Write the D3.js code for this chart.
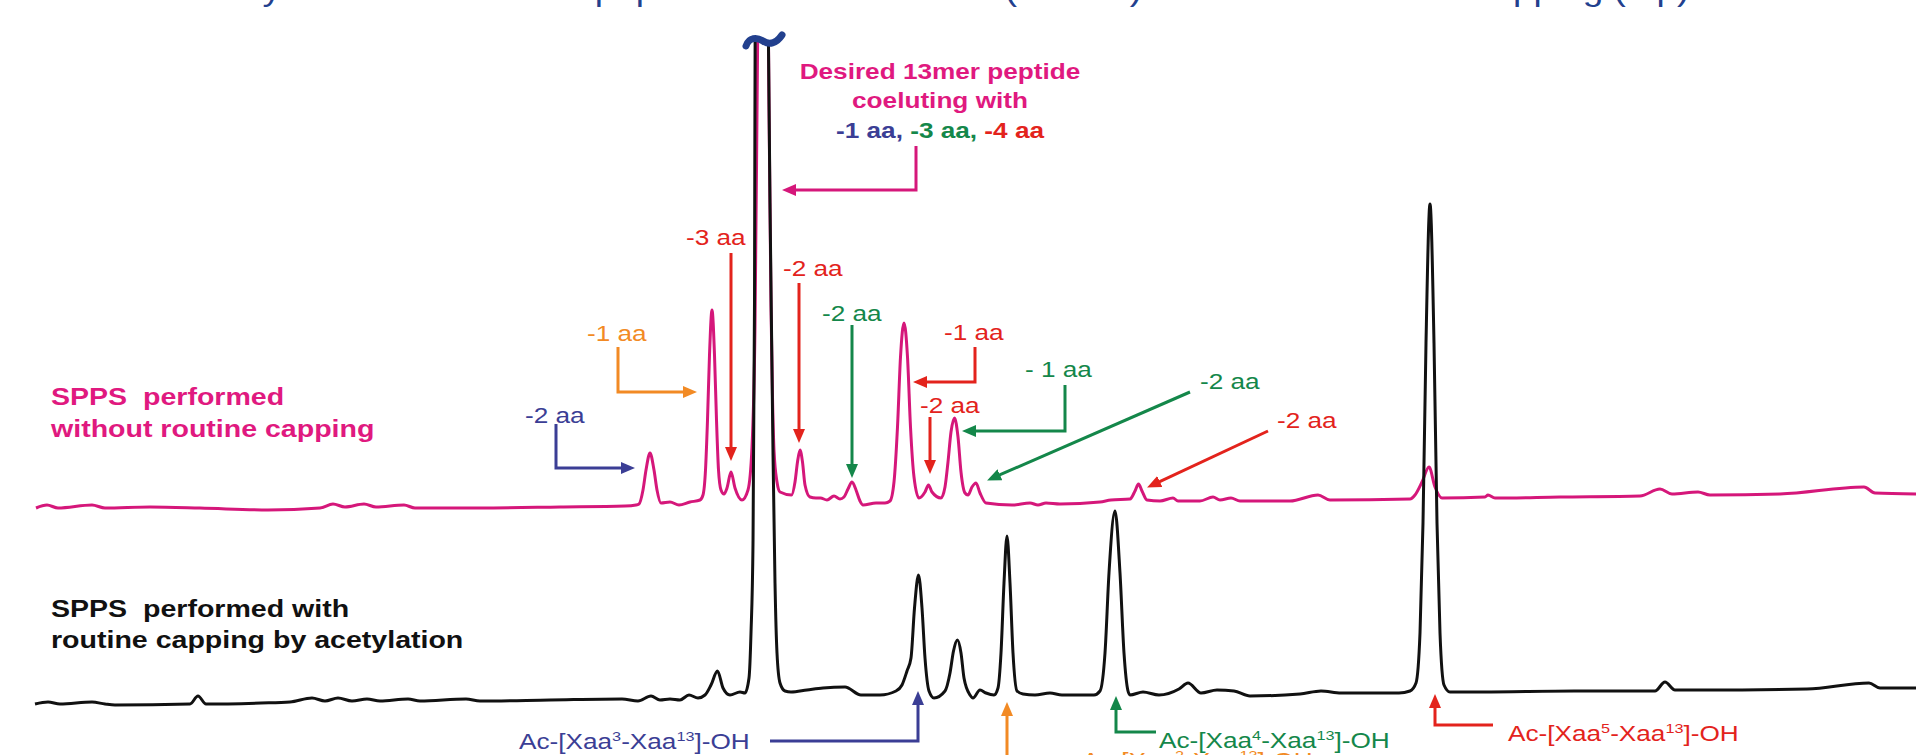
<!DOCTYPE html>
<html><head><meta charset="utf-8">
<script src="https://cdn.jsdelivr.net/npm/d3@7"></script>
<style>
html,body{margin:0;padding:0;background:#fff;}
svg{display:block;}
text{font-family:"Liberation Sans",Arial,Helvetica,sans-serif; white-space:pre;}
</style></head><body>
<svg id="chart" width="1916" height="755"></svg>
<script>
// ---------------- DATA ----------------
// retention time (min), absorbance (mAU) relative to each trace's own baseline
const timeDomain = [0, 19.16];
const traceOffsetNoCap = 196; // vertical stacking offset of upper chromatogram (mAU)

// upper trace: SPPS without routine capping
const noCapTrace = [
[0.36,-1],[0.47,2],[0.58,-1],[0.92,2],[1.05,-1],[1.50,0],[2.00,-1],[2.68,-3],[3.20,-1],[3.33,3],[3.45,0],[3.64,3],[3.76,0],[4.04,2],[4.15,-1],[4.80,-1],[5.60,0],[6.25,1],[6.36,2],
[6.39,3],[6.43,17],[6.46,37],[6.50,54],[6.54,37],[6.57,17],[6.61,4],
[6.70,5],[6.79,2],[6.90,5],[7.00,7],
[7.03,12],[7.055,37],[7.075,87],[7.095,152],[7.12,197],[7.145,152],[7.165,87],[7.185,37],[7.21,17],[7.24,13],
[7.27,19],[7.31,35],[7.35,19],[7.42,7],
[7.48,17],[7.52,60],[7.55,180],[7.575,450],[7.60,700],[7.64,820],[7.67,650],[7.69,400],[7.71,200],[7.725,110],[7.74,57],[7.77,25],[7.80,15],[7.915,12],
[7.95,25],[7.975,45],[8.00,57],[8.025,45],[8.05,22],[8.10,10],[8.16,9],[8.205,9],[8.27,7],[8.34,11],[8.40,8],
[8.44,10],[8.48,18],[8.52,25],[8.56,17],[8.60,6],[8.63,2],[8.76,4],[8.85,4],
[8.90,6],[8.94,25],[8.975,80],[9.005,150],[9.04,184],[9.075,150],[9.105,80],[9.14,30],[9.19,9],
[9.25,15],[9.285,22],[9.32,15],[9.41,9],
[9.45,20],[9.48,45],[9.51,75],[9.545,89],[9.58,70],[9.61,35],[9.65,14],[9.68,12],
[9.72,20],[9.76,24],[9.80,14],[9.86,4],[10.12,2],[10.30,4],[10.38,2],[10.46,4],[10.60,3],[11.00,5],[11.11,7],[11.30,8],
[11.35,16],[11.385,23],[11.42,16],[11.47,7],[11.60,6],[11.73,9],[11.78,6],[12.00,6],[12.13,10],[12.20,7],[12.31,9],[12.40,6],[12.90,6],[13.18,12],[13.30,7],[14.10,8],
[14.15,12],[14.22,25],[14.29,40],[14.35,20],[14.42,9],[14.85,10],[14.88,12],[14.95,9],[15.60,10],[16.40,11],[16.60,18],[16.72,13],[16.98,15],[17.10,12],[17.80,13],[18.64,20],[18.75,14],[19.16,13]
];

// lower trace: SPPS with routine capping by acetylation
const capTrace = [
[0.35,-1],[0.48,1],[0.60,-1],[0.92,1],[1.05,-1],[1.15,-2],[1.90,-1],[1.98,7],[2.06,-1],[2.61,0],[2.90,1],[3.12,5],[3.25,2],[3.38,5],[3.52,2],[3.67,4],[3.80,2],[4.08,4],[4.20,2],[4.66,4],[4.80,2],[5.50,3],[6.22,4],[6.38,2],[6.51,7],[6.60,3],[6.70,4],[6.80,3],[6.89,8],[6.98,5],
[7.05,8],[7.11,18],[7.175,32],[7.23,15],[7.30,8],[7.40,11],[7.45,10],
[7.49,25],[7.51,70],[7.53,160],[7.545,400],[7.555,800],[7.61,1000],[7.67,800],[7.70,500],[7.73,250],[7.75,120],[7.77,50],[7.80,20],[7.85,12],[7.91,11],
[8.07,13],[8.23,15],[8.45,16],[8.61,8],[8.80,8],[8.96,12],[9.02,18],[9.07,32],[9.11,45],[9.145,95],[9.185,128],[9.22,95],[9.25,45],[9.29,12],[9.34,5],
[9.45,12],[9.50,30],[9.535,52],[9.575,63],[9.61,50],[9.64,25],[9.70,8],[9.73,5],[9.80,13],[9.86,10],[9.94,8],
[9.98,15],[10.01,50],[10.04,120],[10.07,167],[10.10,120],[10.13,50],[10.17,12],[10.23,9],[10.35,8],[10.50,10],[10.62,8],[10.80,8],[10.94,8],
[11.00,12],[11.05,50],[11.09,130],[11.15,192],[11.20,130],[11.24,50],[11.28,12],[11.30,8],[11.43,11],[11.59,8],[11.79,14],[11.88,20],[12.01,10],[12.17,13],[12.34,12],[12.50,7],[13.00,9],[13.21,12],[13.41,10],[13.99,10],[14.10,12],
[14.16,20],[14.20,70],[14.23,180],[14.26,360],[14.30,499],[14.34,360],[14.37,180],[14.40,70],[14.44,18],[14.50,11],[14.83,11],[15.74,12],[16.55,12],[16.65,21],[16.75,13],[17.04,13],[18.07,14],[18.69,20],[18.80,15],[19.16,15]
];

const titleText = "HPLC analysis of crude 13mer peptide made with Ac2O (bottom) and without routine capping (top)";
const noCapLabel = ["SPPS  performed", "without routine capping"];
const capLabel = ["SPPS  performed with", "routine capping by acetylation"];
const desiredLabel = ["Desired 13mer peptide", "coeluting with"];
const coelutingParts = ["-1 aa, ", "-3 aa, ", "-4 aa"];
const acProducts = [["Ac-[Xaa","3","-Xaa","13","]-OH"],["Ac-[Xaa","2","-Xaa","13","]-OH"],["Ac-[Xaa","4","-Xaa","13","]-OH"],["Ac-[Xaa","5","-Xaa","13","]-OH"]];

// ---------------- STYLE / LAYOUT ----------------
const C = {magenta:"#D5177A", magText:"#E0197F", black:"#111111", blue:"#3B3E95", green:"#14874A", red:"#E3231C", orange:"#F28A24", navy:"#22408E"};
const SX = 1.19; // horizontal stretch of the original figure's lettering

const svg = d3.select("#chart");
svg.append("rect").attr("width",1916).attr("height",755).attr("fill","#fff");
const defs = svg.append("defs");
defs.append("clipPath").attr("id","plotclip").append("rect").attr("x",0).attr("y",42).attr("width",1916).attr("height",713);

const x = d3.scaleLinear().domain(timeDomain).range([0,1916]);
const y = d3.scaleLinear().domain([0,700]).range([703,3]);

const line = d3.line().x(d=>x(d[0])).curve(d3.curveMonotoneX);

const plot = svg.append("g").attr("clip-path","url(#plotclip)");
plot.append("path").datum(noCapTrace)
  .attr("d", line.y(d=>y(d[1]+traceOffsetNoCap)))
  .attr("fill","none").attr("stroke",C.magenta).attr("stroke-width",3).attr("stroke-linejoin","round");
plot.append("path").datum(capTrace)
  .attr("d", line.y(d=>y(d[1])))
  .attr("fill","none").attr("stroke",C.black).attr("stroke-width",3).attr("stroke-linejoin","round");

// broken-axis tilde on top of the main peak
svg.append("path").attr("d","M746,46 C749,37 757,37 763,41 C769,45 776,44 782,35")
  .attr("fill","none").attr("stroke",C.navy).attr("stroke-width",7).attr("stroke-linecap","round");

// arrowheads
Object.entries(C).forEach(([k,col])=>{
  defs.append("marker").attr("id","ah-"+k).attr("viewBox","0 0 14 12").attr("refX",6).attr("refY",6)
    .attr("markerWidth",14).attr("markerHeight",12).attr("markerUnits","userSpaceOnUse").attr("orient","auto")
    .append("path").attr("d","M0,0 L14,6 L0,12 Z").attr("fill",col);
});
function arrow(pts, colKey){
  const p = pts.map(d=>d.slice());
  const n = p.length, a = p[n-2], b = p[n-1];
  const dx=b[0]-a[0], dy=b[1]-a[1], L=Math.hypot(dx,dy);
  b[0]-=dx/L*7; b[1]-=dy/L*7;
  svg.append("path").attr("d", d3.line()(p)).attr("fill","none").attr("stroke",C[colKey])
    .attr("stroke-width",3).attr("marker-end","url(#ah-"+colKey+")");
}
function label(xp, yp, parts, opt){
  const t = svg.append("text").attr("transform",`translate(${xp},${yp}) scale(${SX},1)`)
    .attr("font-size",opt.size).attr("font-weight",opt.weight||"normal")
    .attr("text-anchor",opt.anchor||"start").attr("fill",C[opt.color]);
  let shifted = false;
  parts.forEach(p=>{
    const o = (typeof p === "string") ? {s:p} : p;
    const ts = t.append("tspan").text(o.s);
    if (o.color) ts.attr("fill",C[o.color]);
    if (o.sup){ ts.attr("font-size",opt.size*0.62).attr("dy",-opt.size*0.38); shifted=true; }
    else if (shifted){ ts.attr("dy",opt.size*0.38); shifted=false; }
  });
  return t;
}

// title (cut off at the top edge, only descenders show)
const title = svg.append("text").attr("font-size",31).attr("fill",C.navy).text(titleText);
const preLen = title.node().getSubStringLength(0, titleText.lastIndexOf("(top)"));
title.attr("transform",`translate(${1614 - SX*preLen},-0.5) scale(${SX},1)`);

// trace labels
label(51,405,[noCapLabel[0]],{size:24,weight:"bold",color:"magText"});
label(51,437,[noCapLabel[1]],{size:24,weight:"bold",color:"magText"});
label(51,617,[capLabel[0]],{size:24,weight:"bold",color:"black"});
label(51,648,[capLabel[1]],{size:24,weight:"bold",color:"black"});

// desired product annotation
label(940,79,[desiredLabel[0]],{size:22,weight:"bold",color:"magText",anchor:"middle"});
label(940,108,[desiredLabel[1]],{size:22,weight:"bold",color:"magText",anchor:"middle"});
label(940,138,[{s:coelutingParts[0],color:"blue"},{s:coelutingParts[1],color:"green"},{s:coelutingParts[2],color:"red"}],{size:22,weight:"bold",color:"blue",anchor:"middle"});
arrow([[916,146],[916,190],[783,190]],"magenta");

// deletion fragment annotations (upper trace)
const fragAnno = [
  {t:"-3 aa", c:"red",    lx:686, ly:245, pts:[[731,253],[731,460]]},
  {t:"-2 aa", c:"red",    lx:783, ly:276, pts:[[799,283],[799,442]]},
  {t:"-1 aa", c:"orange", lx:587, ly:341, pts:[[618,347],[618,392],[696,392]]},
  {t:"-2 aa", c:"blue",   lx:525, ly:423, pts:[[556,424],[556,468],[634,468]]},
  {t:"-2 aa", c:"green",  lx:822, ly:321, pts:[[852,325],[852,477]]},
  {t:"-1 aa", c:"red",    lx:944, ly:340, pts:[[975,347],[975,382],[914,382]]},
  {t:"-2 aa", c:"red",    lx:920, ly:413, pts:[[930,417],[930,473]]},
  {t:"- 1 aa",c:"green",  lx:1025,ly:377, pts:[[1065,385],[1065,431],[963,431]]},
  {t:"-2 aa", c:"green",  lx:1200,ly:389, pts:[[1190,392],[988,480]]},
  {t:"-2 aa", c:"red",    lx:1277,ly:428, pts:[[1268,431],[1148,487]]}
];
fragAnno.forEach(a=>{ arrow(a.pts,a.c); label(a.lx,a.ly,[a.t],{size:22,color:a.c}); });

// acetylated truncation products (lower trace)
const acAnno = [
  {p:acProducts[0], c:"blue",   lx:519, ly:749, pts:[[770,741],[918,741],[918,692]]},
  {p:acProducts[1], c:"orange", lx:1082,ly:768, pts:[[1068,774],[1007,774],[1007,703]]},
  {p:acProducts[2], c:"green",  lx:1159,ly:748, pts:[[1156,732],[1116,732],[1116,697]]},
  {p:acProducts[3], c:"red",    lx:1508,ly:741, pts:[[1493,725],[1435,725],[1435,695]]}
];
acAnno.forEach(a=>{
  arrow(a.pts,a.c);
  label(a.lx,a.ly,[a.p[0],{s:a.p[1],sup:true},a.p[2],{s:a.p[3],sup:true},a.p[4]],{size:22,color:a.c});
});
</script>
</body></html>
